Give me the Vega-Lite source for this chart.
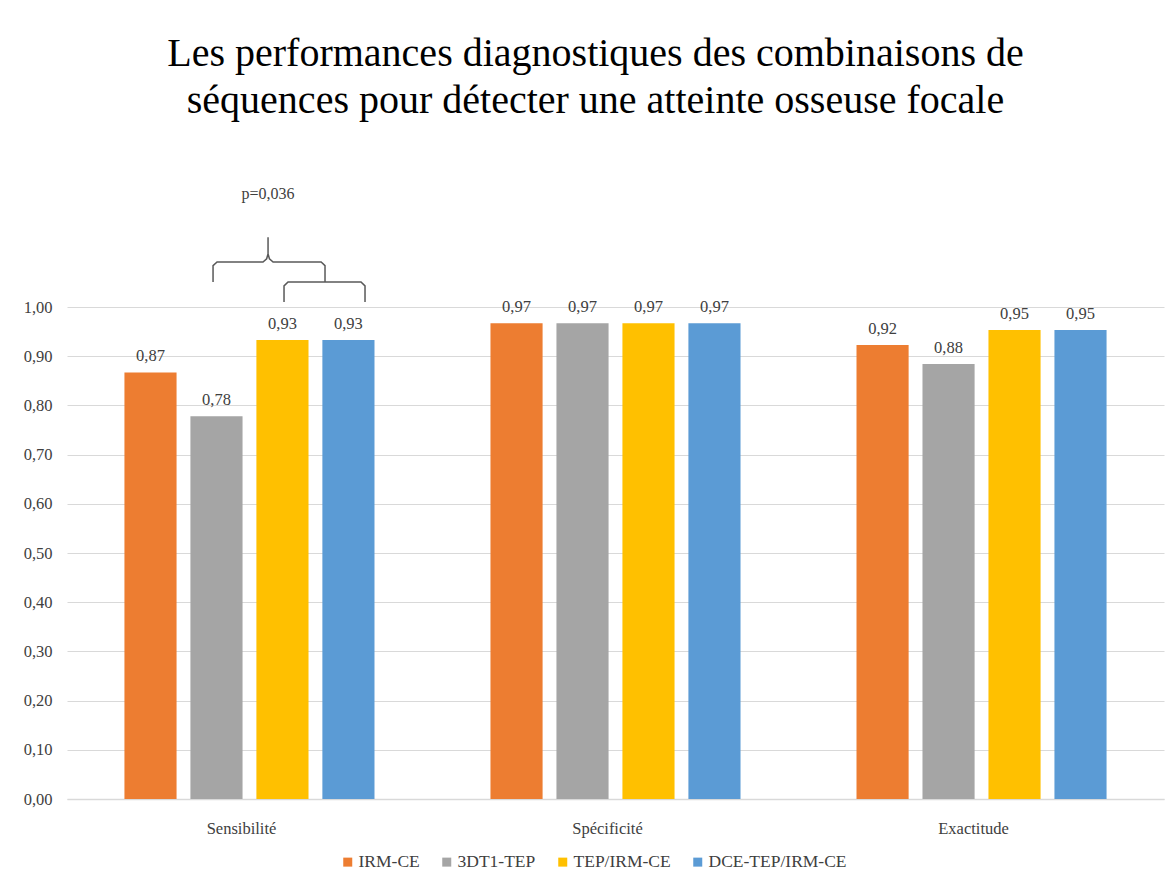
{
  "$schema": "https://vega.github.io/schema/vega-lite/v6.json",
  "autosize": {"type": "none"},
  "padding": {"left": 67, "top": 307, "right": 10, "bottom": 87},
  "width": 1097,
  "height": 492,
  "background": "white",
  "config": {
    "locale": {"number": {"decimal": ",", "thousands": " ", "grouping": [3], "currency": ["", " €"]}},
    "font": "Liberation Serif",
    "view": {"stroke": null},
    "axis": {"labelFont": "Liberation Serif", "labelFontSize": 16.5, "labelColor": "#404040", "title": null},
    "legend": {"labelFont": "Liberation Serif", "labelFontSize": 17.5, "labelColor": "#404040"}
  },
  "title": {
    "text": ["Les performances diagnostiques des combinaisons de", "séquences pour détecter une atteinte osseuse focale"],
    "font": "Liberation Serif",
    "fontSize": 40,
    "fontWeight": "normal",
    "lineHeight": 47,
    "color": "#000000",
    "anchor": "middle",
    "frame": "group",
    "dx": -20,
    "offset": 65
  },
  "datasets": {
    "bars": [
      {"metric": "Sensibilité", "seq": "IRM-CE", "value": 0.867},
      {"metric": "Sensibilité", "seq": "3DT1-TEP", "value": 0.778},
      {"metric": "Sensibilité", "seq": "TEP/IRM-CE", "value": 0.933},
      {"metric": "Sensibilité", "seq": "DCE-TEP/IRM-CE", "value": 0.933},
      {"metric": "Spécificité", "seq": "IRM-CE", "value": 0.967},
      {"metric": "Spécificité", "seq": "3DT1-TEP", "value": 0.967},
      {"metric": "Spécificité", "seq": "TEP/IRM-CE", "value": 0.967},
      {"metric": "Spécificité", "seq": "DCE-TEP/IRM-CE", "value": 0.967},
      {"metric": "Exactitude", "seq": "IRM-CE", "value": 0.923},
      {"metric": "Exactitude", "seq": "3DT1-TEP", "value": 0.884},
      {"metric": "Exactitude", "seq": "TEP/IRM-CE", "value": 0.953},
      {"metric": "Exactitude", "seq": "DCE-TEP/IRM-CE", "value": 0.953}
    ],
    "bracket": [
      {"b": "lower", "i": 1, "u": 0.0935, "v": 1.010},
      {"b": "lower", "i": 2, "u": 0.0935, "v": 1.043},
      {"b": "lower", "i": 3, "u": 0.1045, "v": 1.051},
      {"b": "lower", "i": 4, "u": 0.304, "v": 1.051},
      {"b": "lower", "i": 5, "u": 0.315, "v": 1.043},
      {"b": "lower", "i": 6, "u": 0.315, "v": 1.010},
      {"b": "upper", "i": 1, "u": -0.1006, "v": 1.051},
      {"b": "upper", "i": 2, "u": -0.1006, "v": 1.084},
      {"b": "upper", "i": 3, "u": -0.0896, "v": 1.0915},
      {"b": "upper", "i": 4, "u": 0.036, "v": 1.0915},
      {"b": "upper", "i": 5, "u": 0.046, "v": 1.098},
      {"b": "upper", "i": 6, "u": 0.0498, "v": 1.108},
      {"b": "upper", "i": 7, "u": 0.0498, "v": 1.142},
      {"b": "upper", "i": 8, "u": 0.0498, "v": 1.108},
      {"b": "upper", "i": 9, "u": 0.0536, "v": 1.098},
      {"b": "upper", "i": 10, "u": 0.0636, "v": 1.0915},
      {"b": "upper", "i": 11, "u": 0.195, "v": 1.0915},
      {"b": "upper", "i": 12, "u": 0.2056, "v": 1.084},
      {"b": "upper", "i": 13, "u": 0.2056, "v": 1.051}
    ],
    "pnote": [{"u": 0.0498, "v": 1.23, "label": "p=0,036"}]
  },
  "layer": [
    {
      "data": {"name": "bars"},
      "encoding": {
        "x": {
          "field": "metric", "type": "nominal",
          "sort": ["Sensibilité", "Spécificité", "Exactitude"],
          "scale": {"paddingInner": 0.279, "paddingOuter": 0.138},
          "axis": {"labelAngle": 0, "ticks": false, "labelPadding": 21, "labelOffset": -8, "domainColor": "#d9d9d9", "domainWidth": 1.5, "grid": false}
        },
        "xOffset": {
          "field": "seq", "type": "nominal",
          "sort": ["IRM-CE", "3DT1-TEP", "TEP/IRM-CE", "DCE-TEP/IRM-CE"],
          "scale": {"paddingInner": 0.21, "paddingOuter": 0.105}
        },
        "y": {
          "field": "value", "type": "quantitative",
          "scale": {"domain": [0, 1], "nice": false},
          "axis": {"values": [0, 0.1, 0.2, 0.3, 0.4, 0.5, 0.6, 0.7, 0.8, 0.9, 1.0], "format": ".2f", "domain": false, "ticks": false, "labelPadding": 15, "gridColor": "#d9d9d9", "gridWidth": 1.2}
        }
      },
      "layer": [
        {
          "mark": {"type": "bar"},
          "encoding": {
            "color": {
              "field": "seq", "type": "nominal",
              "scale": {"domain": ["IRM-CE", "3DT1-TEP", "TEP/IRM-CE", "DCE-TEP/IRM-CE"], "range": ["#ED7D31", "#A5A5A5", "#FFC000", "#5B9BD5"]},
              "legend": {"title": null, "orient": "none", "direction": "horizontal", "legendX": 272, "legendY": 546, "symbolType": "square", "symbolSize": 81, "symbolStrokeWidth": 0, "labelOffset": 2, "columnPadding": 18}
            }
          }
        },
        {
          "mark": {"type": "text", "baseline": "alphabetic", "dy": -11, "fontSize": 16.5, "color": "#404040", "font": "Liberation Serif"},
          "encoding": {"text": {"field": "value", "type": "quantitative", "format": ".2f"}}
        }
      ]
    },
    {
      "encoding": {
        "x": {"field": "u", "type": "quantitative", "scale": {"domain": [-0.5, 2.5], "nice": false, "zero": false}, "axis": null},
        "y": {
          "field": "v", "type": "quantitative",
          "scale": {"domain": [0, 1], "nice": false},
          "axis": {"values": [0, 0.1, 0.2, 0.3, 0.4, 0.5, 0.6, 0.7, 0.8, 0.9, 1.0], "format": ".2f", "domain": false, "ticks": false, "labelPadding": 15, "gridColor": "#d9d9d9", "gridWidth": 1.2}
        }
      },
      "layer": [
        {
          "data": {"name": "bracket"},
          "mark": {"type": "line", "color": "#595959", "strokeWidth": 1.5, "clip": false},
          "encoding": {"detail": {"field": "b"}, "order": {"field": "i", "type": "quantitative"}}
        },
        {
          "data": {"name": "pnote"},
          "mark": {"type": "text", "fontSize": 16, "color": "#404040", "font": "Liberation Serif", "baseline": "middle"},
          "encoding": {"text": {"field": "label"}}
        }
      ]
    }
  ],
  "resolve": {"scale": {"x": "independent"}}
}
